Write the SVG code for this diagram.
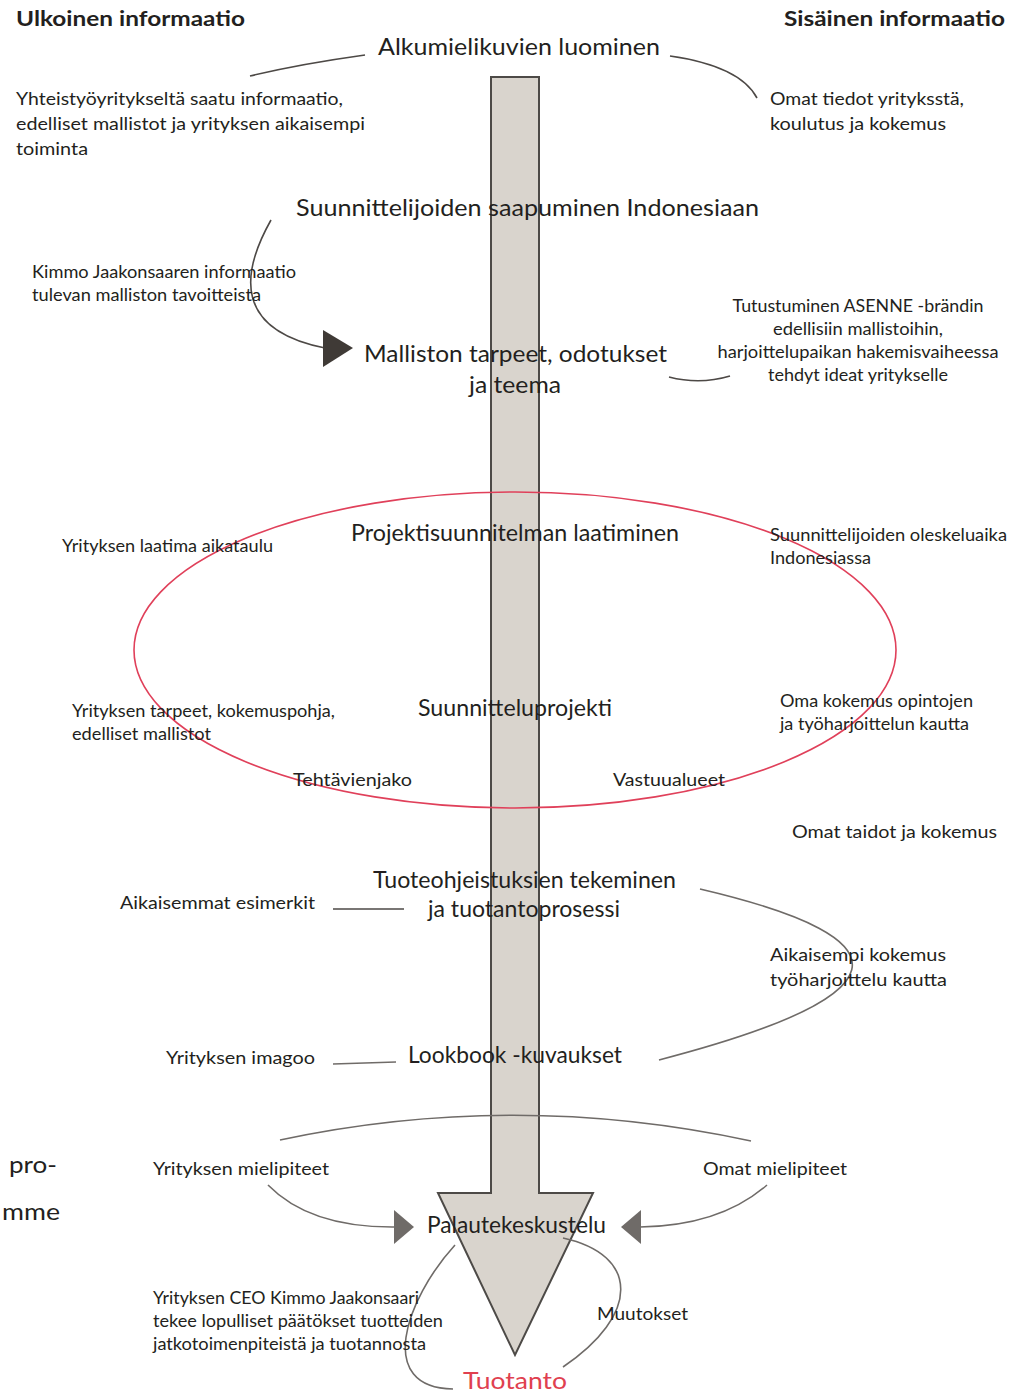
<svg xmlns="http://www.w3.org/2000/svg" width="1012" height="1394" viewBox="0 0 1012 1394">
<style>
text{font-family:Lato,"Noto Sans","Liberation Sans",sans-serif;fill:#231f20}
.h{font-weight:bold;font-size:21px}
.big{font-size:23.5px}
.sm{font-size:18px}
.xs{font-size:17px}
.red{fill:#e0404f}
.c{fill:none;stroke:#4d4946;stroke-width:1.6}
.c2{fill:none;stroke:#6f6b68;stroke-width:1.6}
</style>
<rect width="1012" height="1394" fill="#fff"/>
<g id="flow-arrow">
<path d="M491,77 L539,77 L539,1193 L593,1193 L515,1355 L438,1193 L491,1193 Z" fill="#d9d4cd" stroke="#4d4a47" stroke-width="2" stroke-linejoin="miter"/>
</g>
<g id="connectors">
<path class="c" d="M250,76 Q300,64 365,55"/>
<path class="c" d="M670,56 Q740,66 757,98"/>
<path class="c" d="M271,220 C240,275 235,330 325,348"/>
<polygon points="323,330 353,348 323,367" fill="#3f3a36"/>
<path class="c" d="M669,377 Q700,385 730,376"/>
<path class="c" d="M333,909 L404,909"/>
<path class="c2" d="M700,889 Q1024,965 659,1060"/>
<path class="c2" d="M333,1064 L396,1062"/>
<path class="c2" d="M280,1140 Q515,1090 751,1141"/>
<path class="c2" d="M268,1185 Q310,1228 396,1227"/>
<polygon points="394,1210 414,1227 394,1244" fill="#6f6b68"/>
<path class="c2" d="M767,1185 Q720,1226 640,1227"/>
<polygon points="621,1227 641,1210 641,1244" fill="#6f6b68"/>
<path class="c2" d="M455,1245 C405,1300 375,1388 453,1389"/>
<path class="c2" d="M563,1238 C640,1255 640,1315 563,1367"/>
</g>
<g id="ellipse-project">
<ellipse cx="515" cy="650" rx="381" ry="158" fill="none" stroke="#e0405a" stroke-width="1.6"/>
</g>
<g id="headers">
<text class="h" x="16" y="26" textLength="229" lengthAdjust="spacingAndGlyphs">Ulkoinen informaatio</text>
<text class="h" x="784" y="26" textLength="221" lengthAdjust="spacingAndGlyphs">Sisäinen informaatio</text>
</g>
<g id="n-alkumielikuvat">
<text class="big" x="378" y="55" textLength="282" lengthAdjust="spacingAndGlyphs">Alkumielikuvien luominen</text>
</g>
<g id="n-yhteistyo" class="sm">
<text class="sm" x="16" y="105" textLength="327" lengthAdjust="spacingAndGlyphs">Yhteistyöyritykseltä saatu informaatio,</text>
<text class="sm" x="16" y="130" textLength="349" lengthAdjust="spacingAndGlyphs">edelliset mallistot ja yrityksen aikaisempi</text>
<text class="sm" x="16" y="155" textLength="72" lengthAdjust="spacingAndGlyphs">toiminta</text>
</g>
<g id="n-omat-tiedot">
<text class="sm" x="770" y="105" textLength="194" lengthAdjust="spacingAndGlyphs">Omat tiedot yrityksstä,</text>
<text class="sm" x="770" y="130" textLength="176" lengthAdjust="spacingAndGlyphs">koulutus ja kokemus</text>
</g>
<g id="n-saapuminen">
<text class="big" x="296" y="216" textLength="463" lengthAdjust="spacingAndGlyphs">Suunnittelijoiden saapuminen Indonesiaan</text>
</g>
<g id="n-kimmo">
<text class="xs" x="32" y="278" textLength="264" lengthAdjust="spacingAndGlyphs">Kimmo Jaakonsaaren informaatio</text>
<text class="xs" x="32" y="301" textLength="229" lengthAdjust="spacingAndGlyphs">tulevan malliston tavoitteista</text>
</g>
<g id="n-malliston-tarpeet">
<text class="big" x="364" y="362" textLength="303" lengthAdjust="spacingAndGlyphs">Malliston tarpeet, odotukset</text>
<text class="big" x="469" y="393" textLength="92" lengthAdjust="spacingAndGlyphs">ja teema</text>
</g>
<g id="n-tutustuminen" text-anchor="middle">
<text class="xs" x="858" y="312" textLength="251" lengthAdjust="spacingAndGlyphs">Tutustuminen ASENNE -brändin</text>
<text class="xs" x="858" y="335" textLength="170" lengthAdjust="spacingAndGlyphs">edellisiin mallistoihin,</text>
<text class="xs" x="858" y="358" textLength="281" lengthAdjust="spacingAndGlyphs">harjoittelupaikan hakemisvaiheessa</text>
<text class="xs" x="858" y="381" textLength="180" lengthAdjust="spacingAndGlyphs">tehdyt ideat yritykselle</text>
</g>
<g id="n-projektisuunnitelma">
<text class="big" x="351" y="541" textLength="328" lengthAdjust="spacingAndGlyphs">Projektisuunnitelman laatiminen</text>
</g>
<g id="n-aikataulu">
<text class="xs" x="62" y="552" textLength="211" lengthAdjust="spacingAndGlyphs">Yrityksen laatima aikataulu</text>
</g>
<g id="n-oleskeluaika">
<text class="xs" x="770" y="541" textLength="237" lengthAdjust="spacingAndGlyphs">Suunnittelijoiden oleskeluaika</text>
<text class="xs" x="770" y="564" textLength="101" lengthAdjust="spacingAndGlyphs">Indonesiassa</text>
</g>
<g id="n-suunnitteluprojekti">
<text class="big" x="418" y="716" textLength="194" lengthAdjust="spacingAndGlyphs">Suunnitteluprojekti</text>
</g>
<g id="n-yrityksen-tarpeet">
<text class="xs" x="72" y="717" textLength="263" lengthAdjust="spacingAndGlyphs">Yrityksen tarpeet, kokemuspohja,</text>
<text class="xs" x="72" y="740" textLength="139" lengthAdjust="spacingAndGlyphs">edelliset mallistot</text>
</g>
<g id="n-oma-kokemus">
<text class="xs" x="780" y="707" textLength="193" lengthAdjust="spacingAndGlyphs">Oma kokemus opintojen</text>
<text class="xs" x="780" y="730" textLength="189" lengthAdjust="spacingAndGlyphs">ja työharjoittelun kautta</text>
</g>
<g id="n-tehtavienjako">
<text class="sm" x="293" y="786" textLength="119" lengthAdjust="spacingAndGlyphs">Tehtävienjako</text>
</g>
<g id="n-vastuualueet">
<text class="sm" x="613" y="786" textLength="112" lengthAdjust="spacingAndGlyphs">Vastuualueet</text>
</g>
<g id="n-omat-taidot">
<text class="sm" x="792" y="838" textLength="205" lengthAdjust="spacingAndGlyphs">Omat taidot ja kokemus</text>
</g>
<g id="n-tuoteohjeistukset">
<text class="big" x="373" y="888" textLength="303" lengthAdjust="spacingAndGlyphs">Tuoteohjeistuksien tekeminen</text>
<text class="big" x="428" y="917" textLength="192" lengthAdjust="spacingAndGlyphs">ja tuotantoprosessi</text>
</g>
<g id="n-esimerkit">
<text class="sm" x="120" y="909" textLength="195" lengthAdjust="spacingAndGlyphs">Aikaisemmat esimerkit</text>
</g>
<g id="n-aikaisempi-kokemus">
<text class="sm" x="770" y="961" textLength="176" lengthAdjust="spacingAndGlyphs">Aikaisempi kokemus</text>
<text class="sm" x="770" y="986" textLength="177" lengthAdjust="spacingAndGlyphs">työharjoittelu kautta</text>
</g>
<g id="n-imagoo">
<text class="sm" x="166" y="1064" textLength="149" lengthAdjust="spacingAndGlyphs">Yrityksen imagoo</text>
</g>
<g id="n-lookbook">
<text class="big" x="408" y="1063" textLength="214" lengthAdjust="spacingAndGlyphs">Lookbook -kuvaukset</text>
</g>
<g id="n-fragment">
<text class="big" x="9" y="1173" textLength="48" lengthAdjust="spacingAndGlyphs">pro-</text>
<text class="big" x="2" y="1220" textLength="58" lengthAdjust="spacingAndGlyphs">mme</text>
</g>
<g id="n-yrityksen-mielipiteet">
<text class="sm" x="153" y="1175" textLength="176" lengthAdjust="spacingAndGlyphs">Yrityksen mielipiteet</text>
</g>
<g id="n-omat-mielipiteet">
<text class="sm" x="703" y="1175" textLength="144" lengthAdjust="spacingAndGlyphs">Omat mielipiteet</text>
</g>
<g id="n-palautekeskustelu">
<text class="big" x="427" y="1233" textLength="179" lengthAdjust="spacingAndGlyphs">Palautekeskustelu</text>
</g>
<g id="n-ceo">
<text class="xs" x="153" y="1304" textLength="266" lengthAdjust="spacingAndGlyphs">Yrityksen CEO Kimmo Jaakonsaari</text>
<text class="xs" x="153" y="1327" textLength="290" lengthAdjust="spacingAndGlyphs">tekee lopulliset päätökset tuotteiden</text>
<text class="xs" x="153" y="1350" textLength="273" lengthAdjust="spacingAndGlyphs">jatkotoimenpiteistä ja tuotannosta</text>
</g>
<g id="n-muutokset">
<text class="sm" x="597" y="1320" textLength="91" lengthAdjust="spacingAndGlyphs">Muutokset</text>
</g>
<g id="n-tuotanto">
<text class="big red" x="463" y="1389" textLength="104" lengthAdjust="spacingAndGlyphs">Tuotanto</text>
</g>
</svg>
